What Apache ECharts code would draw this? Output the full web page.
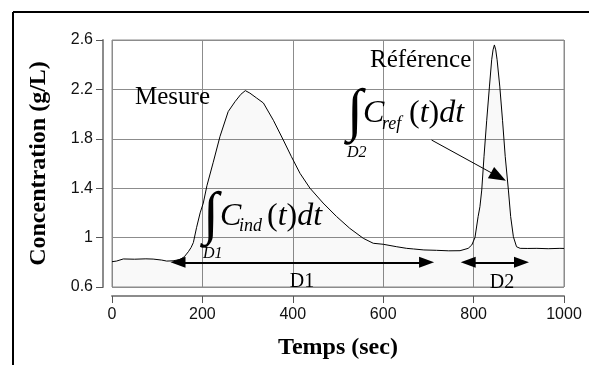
<!DOCTYPE html>
<html>
<head>
<meta charset="utf-8">
<script src="https://cdn.jsdelivr.net/npm/echarts@6/dist/echarts.min.js"></script>
<style>
  html, body { margin: 0; padding: 0; background: #fff; }
  #chart { width: 590px; height: 365px; }
</style>
</head>
<body>
<div id="chart"></div>
<script>
const timeSec = [0, 10, 25, 50, 75, 91, 110, 121, 135, 150, 160, 169, 175, 180, 187, 195, 202, 210, 224, 239,
  257, 272, 285, 295, 305, 320, 335, 357, 379, 397, 416, 438, 467, 497, 526, 556, 578, 600, 630, 652,
  667, 690, 718, 745, 770, 788, 796, 803, 810, 814, 818, 823, 829, 835, 840, 843, 846, 849, 852, 858,
  864, 870, 877, 882, 888, 895, 903, 920, 940, 965, 991, 1000];
const concentration = [0.805, 0.81, 0.827, 0.825, 0.828, 0.826, 0.818, 0.81, 0.812, 0.822, 0.845, 0.886, 0.92, 0.96, 1.08, 1.2, 1.28, 1.42, 1.61, 1.82,
  2.02, 2.1, 2.16, 2.19, 2.17, 2.13, 2.09, 1.95, 1.79, 1.655, 1.52, 1.4, 1.28, 1.17, 1.075, 0.994, 0.954, 0.946, 0.926, 0.913,
  0.908, 0.9, 0.897, 0.893, 0.894, 0.913, 0.94, 1.0, 1.17, 1.25, 1.385, 1.655, 1.95, 2.22, 2.44, 2.52, 2.56, 2.52, 2.44, 2.22,
  1.95, 1.655, 1.385, 1.17, 1.007, 0.926, 0.913, 0.912, 0.913, 0.91, 0.913, 0.912];

// integration windows D1 / D2 (sec) and the level where their arrows sit
const windowD1 = [146, 696];
const windowD2 = [788, 906];
const windowLevel = 0.8;
// pointer from the C_ref label to the reference peak
const pointerFrom = [707, 1.79];
const pointerTo = [855, 1.493];

const serif = '"Liberation Serif", "Times New Roman", serif';
const sans = '"Liberation Sans", Arial, sans-serif';

const chart = echarts.init(document.getElementById('chart'), null, { renderer: 'canvas' });

function txt(x, y, text, font, align) {
  return {
    type: 'text', x: x, y: y, silent: true, z: 100,
    style: { text: text, font: font, fill: '#000', verticalAlign: 'middle', align: align || 'left' }
  };
}

const richPar = {
  p: { fontFamily: serif, fontSize: 32, fontStyle: 'normal', color: '#000' },
  i: { fontFamily: serif, fontSize: 32, fontStyle: 'italic', color: '#000' }
};

const tickLabel = { fontFamily: sans, fontSize: 16, color: '#111' };

chart.setOption({
  animation: false,
  textStyle: { fontFamily: sans, fontSize: 16 },
  grid: {
    left: 112, right: 26, top: 40, bottom: 78,
    show: true, borderColor: '#8c8c8c', borderWidth: 1
  },
  xAxis: {
    type: 'value', min: 0, max: 1000, interval: 200,
    offset: 9,
    name: 'Temps (sec)', nameLocation: 'middle', nameGap: 40,
    nameTextStyle: { fontFamily: serif, fontWeight: 'bold', fontSize: 24, color: '#000' },
    axisLine: { show: true, onZero: false, lineStyle: { color: '#8c8c8c', width: 2 } },
    axisTick: { show: true, length: 7, lineStyle: { color: '#555', width: 1 } },
    axisLabel: Object.assign({ margin: 11, formatter: v => String(v) }, tickLabel),
    splitLine: { show: true, lineStyle: { color: '#8c8c8c', width: 1 } }
  },
  yAxis: {
    type: 'value', min: 0.6, max: 2.6, interval: 0.4,
    offset: 9,
    name: 'Concentration (g/L)', nameLocation: 'middle', nameGap: 52, nameRotate: 90,
    nameTextStyle: { fontFamily: serif, fontWeight: 'bold', fontSize: 24, color: '#000' },
    axisLine: { show: true, onZero: false, lineStyle: { color: '#8c8c8c', width: 2 } },
    axisTick: { show: true, length: 7, lineStyle: { color: '#555', width: 1 } },
    axisLabel: Object.assign({ margin: 10, formatter: v => String(+v.toFixed(1)) }, tickLabel),
    splitLine: { show: true, lineStyle: { color: '#8c8c8c', width: 1 } }
  },
  series: [{
    type: 'line',
    data: timeSec.map((t, i) => [t, concentration[i]]),
    symbol: 'none',
    lineStyle: { color: '#000', width: 1 },
    areaStyle: { color: 'rgba(0,0,0,0.035)', origin: 'start' },
    z: 5,
    markLine: {
      silent: true,
      symbol: ['triangle', 'triangle'],
      symbolSize: [11, 15],
      label: { show: false },
      lineStyle: { color: '#000', width: 2, type: 'solid' },
      data: [
        [{ coord: [windowD1[0], windowLevel] }, { coord: [windowD1[1], windowLevel] }],
        [{ coord: [windowD2[0], windowLevel] }, { coord: [windowD2[1], windowLevel] }],
        [{ coord: pointerFrom, symbol: 'none', lineStyle: { width: 1 } },
         { coord: pointerTo, symbol: 'triangle', symbolSize: [13, 17], lineStyle: { width: 1 } }]
      ]
    }
  }],
  graphic: [
    // outer frame
    { type: 'line', silent: true, shape: { x1: 13, y1: 12, x2: 589, y2: 12 }, style: { stroke: '#000', lineWidth: 2 } },
    { type: 'line', silent: true, shape: { x1: 13, y1: 12, x2: 13, y2: 365 }, style: { stroke: '#000', lineWidth: 2 } },
    // curve labels
    txt(135, 97, 'Mesure', '25px ' + serif),
    txt(370, 60, 'Référence', '25px ' + serif),
    // integral over D1
    txt(203, 217, '∫', '58px ' + serif),
    txt(220, 217, 'C', 'italic 32px ' + serif),
    txt(239, 226, 'ind', 'italic 18px ' + serif),
    { type: 'text', x: 267, y: 217, silent: true, z: 100,
      style: { text: '{p|(}{i|t}{p|)}{i|dt}', rich: richPar, verticalAlign: 'middle', align: 'left' } },
    txt(203, 254, 'D1', 'italic 16px ' + serif),
    // integral over D2
    txt(347, 114, '∫', '58px ' + serif),
    txt(363, 114, 'C', 'italic 32px ' + serif),
    txt(382, 124, 'ref', 'italic 18px ' + serif),
    { type: 'text', x: 409, y: 114, silent: true, z: 100,
      style: { text: '{p|(}{i|t}{p|)}{i|dt}', rich: richPar, verticalAlign: 'middle', align: 'left' } },
    txt(347, 153, 'D2', 'italic 16px ' + serif),
    // window labels
    txt(302, 282, 'D1', '20px ' + serif, 'center'),
    txt(502, 283, 'D2', '20px ' + serif, 'center')
  ]
});
</script>
</body>
</html>
